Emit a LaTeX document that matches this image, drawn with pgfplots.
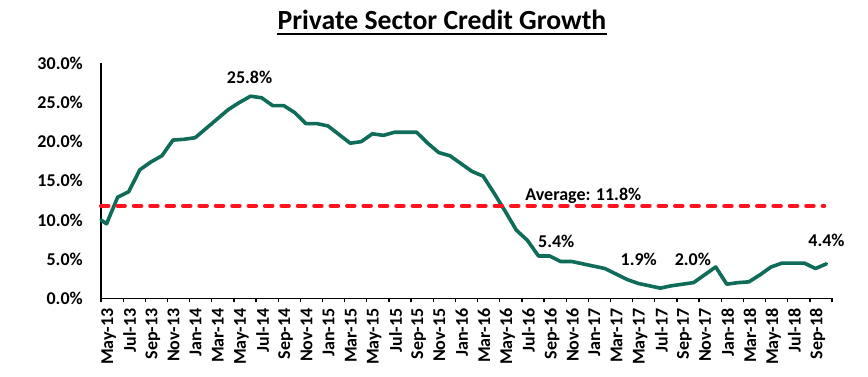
\documentclass[border=0pt]{standalone}
\usepackage{pgfplots}
\pgfplotsset{compat=1.18}
\usepackage{fontspec}
\setmainfont{Carlito}
\definecolor{cgreen}{RGB}{14,108,88}
\definecolor{cred}{RGB}{255,20,30}
\pgfplotstableread{
x y
0 10.0
0.5 9.5
1.5 12.9
2.5 13.6
3.5 16.4
4.5 17.4
5.5 18.2
6.5 20.2
7.5 20.3
8.5 20.5
9.5 21.7
10.5 22.9
11.5 24.1
12.5 25.0
13.5 25.8
14.5 25.6
15.5 24.6
16.5 24.6
17.5 23.7
18.5 22.3
19.5 22.3
20.5 22.0
21.5 20.9
22.5 19.8
23.5 20.0
24.5 21.0
25.5 20.8
26.5 21.2
27.5 21.2
28.5 21.2
29.5 19.8
30.5 18.6
31.5 18.2
32.5 17.2
33.5 16.2
34.5 15.6
35.5 13.4
36.5 11.1
37.5 8.7
38.5 7.4
39.5 5.4
40.5 5.4
41.5 4.7
42.5 4.7
43.5 4.4
44.5 4.1
45.5 3.8
46.5 3.1
47.5 2.4
48.5 1.9
49.5 1.6
50.5 1.3
51.5 1.6
52.5 1.8
53.5 2.0
54.5 3.0
55.5 4.0
56.5 1.8
57.5 2.0
58.5 2.1
59.5 3.0
60.5 4.0
61.5 4.5
62.5 4.5
63.5 4.5
64.5 3.8
65.5 4.4
}\credit
\begin{document}
\begin{tikzpicture}
\path[use as bounding box] (0pt,0pt) rectangle (868pt,376pt);
\node[anchor=base, inner sep=0pt, font=\fontsize{27.7}{30}\selectfont\bfseries] (t) at (442pt,347pt) {Private Sector Credit Growth};
\draw[line width=2pt] ([yshift=-5pt]t.base west) -- ([yshift=-5pt]t.base east);
\begin{axis}[
  at={(101pt,77.7pt)}, anchor=south west,
  scale only axis, width=731pt, height=235pt,
  xmin=0, xmax=66, ymin=0, ymax=30,
  axis x line*=bottom, axis y line*=left,
  axis line style={line width=1.3pt, black, -},
  xtick={0,2,...,66},
  xticklabels={May-13,Jul-13,Sep-13,Nov-13,Jan-14,Mar-14,May-14,Jul-14,Sep-14,Nov-14,Jan-15,Mar-15,May-15,Jul-15,Sep-15,Nov-15,Jan-16,Mar-16,May-16,Jul-16,Sep-16,Nov-16,Jan-17,Mar-17,May-17,Jul-17,Sep-17,Nov-17,Jan-18,Mar-18,May-18,Jul-18,Sep-18,{}},
  ytick={0,5,...,30},
  yticklabels={0.0\%,5.0\%,10.0\%,15.0\%,20.0\%,25.0\%,30.0\%},
  tick align=outside, major tick length=4pt,
  xtick style={black, line width=1.3pt},
  ytick style={draw=none},
  xticklabel style={yshift=-6pt, rotate=90, anchor=north east, inner sep=0pt, font=\fontsize{18}{20}\selectfont\bfseries},
  yticklabel style={anchor=east, inner sep=0pt, xshift=-14pt, font=\fontsize{18}{20}\selectfont\bfseries},
  clip=false,
]
\addplot[cgreen, line width=3.6pt, line join=round, line cap=round] table[x=x,y=y] {\credit};
\addplot[cred, line width=4pt, line cap=round, dash pattern=on 7.5pt off 8.9pt] coordinates {(0,11.8) (65.3,11.8)};
\begin{scope}[every node/.style={font=\fontsize{18}{20}\selectfont\bfseries, inner sep=0pt}]
\node[anchor=base] at (axis cs:13.41,27.45) {25.8\%};
\node[anchor=base west] at (axis cs:38.3,12.45) {Average: 11.8\%};
\node[anchor=base] at (axis cs:41.1,6.5) {5.4\%};
\node[anchor=base] at (axis cs:48.55,4.25) {1.9\%};
\node[anchor=base] at (axis cs:53.44,4.25) {2.0\%};
\node[anchor=base] at (axis cs:65.5,6.6) {4.4\%};
\end{scope}
\end{axis}
\end{tikzpicture}
\end{document}
